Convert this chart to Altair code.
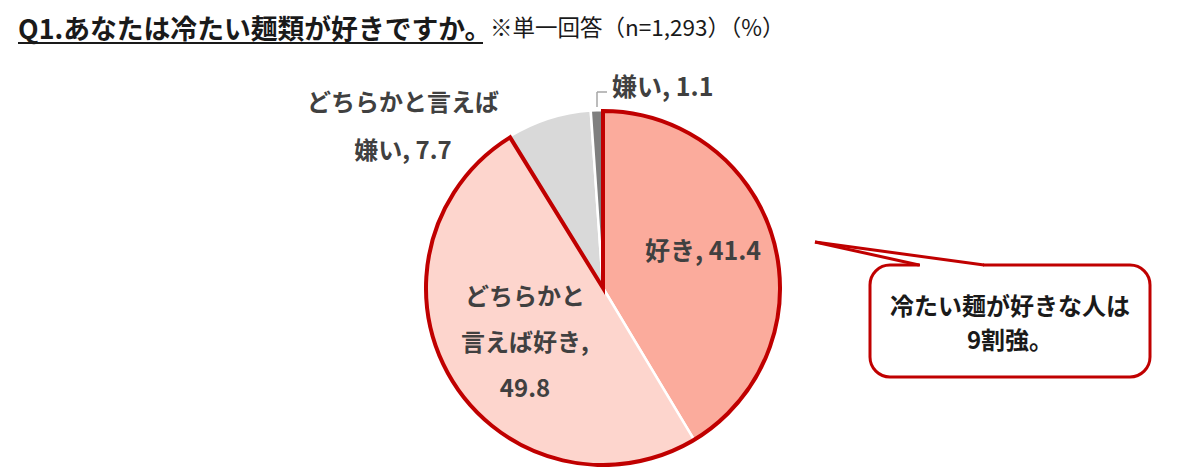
import altair as alt
import pandas as pd

FONT = "Noto Sans CJK JP"

# ---- data ----
categories = ["好き", "どちらかと言えば好き", "どちらかと言えば嫌い", "嫌い"]
values = [41.4, 49.8, 7.7, 1.1]
groups = ["好き計", "好き計", "嫌い計", "嫌い計"]
colors = ["#FBAB9C", "#FDD5CD", "#D9D9D9", "#7F7F7F"]
label_lines = [
    [f"{categories[0]}, {values[0]}"],
    ["どちらかと", "言えば好き,", f"{values[1]}"],
    ["どちらかと言えば", f"嫌い, {values[2]}"],
    [f"{categories[3]}, {values[3]}"],
]
title_text = "Q1.あなたは冷たい麺類が好きですか。"
note_text = "※単一回答（n=1,293）（%）"
callout_lines = ["冷たい麺が好きな人は", "9割強。"]

df = pd.DataFrame({
    "category": categories,
    "value": values,
    "order": list(range(len(categories))),
    "group": groups,
    "label": ["|".join(l) for l in label_lines],
})
one = pd.DataFrame({"k": [0]})

CX, CY, R = 595, 280, 178
RED = "#C00000"

pie = alt.Chart(df).mark_arc(outerRadius=R, stroke="white", strokeWidth=2.5).encode(
    theta=alt.Theta("value:Q", stack=True),
    order=alt.Order("order:Q"),
    color=alt.Color("category:N", scale=alt.Scale(domain=categories, range=colors), legend=None),
    x=alt.value(CX), y=alt.value(CY),
)

outline = alt.Chart(df).transform_aggregate(
    total="sum(value)", o="min(order)", groupby=["group"]
).mark_arc(outerRadius=R - 1, fillOpacity=0, stroke=RED, strokeWidth=4, strokeJoin="miter").encode(
    theta=alt.Theta("total:Q", stack=True),
    order=alt.Order("o:Q"),
    strokeOpacity=alt.condition("datum.group == '好き計'", alt.value(1), alt.value(0)),
    x=alt.value(CX), y=alt.value(CY),
)


def label_layer(i, x, y, align, lh, size=24):
    # y is the middle of the first line
    return alt.Chart(df).transform_filter(alt.datum.order == i).transform_calculate(
        lines="split(datum.label, '|')"
    ).mark_text(fontSize=size, fontWeight="bold", color="#404040", font=FONT,
                align=align, baseline="middle", lineHeight=lh).encode(
        text="lines:N", x=alt.value(x), y=alt.value(y))


labels = [
    label_layer(0, 695, 244, "center", 46, 25),
    label_layer(1, 517, 290, "center", 46),
    label_layer(2, 395, 96, "center", 48),
    label_layer(3, 604, 80, "left", 30, 25),
]

leader_v = alt.Chart(one).mark_rule(color="#A6A6A6", strokeWidth=1.5).encode(
    x=alt.value(589), y=alt.value(99), y2=alt.value(84))
leader_h = alt.Chart(one).mark_rule(color="#A6A6A6", strokeWidth=1.5).encode(
    x=alt.value(589), x2=alt.value(599), y=alt.value(84))

title = alt.Chart(one).mark_text(text=title_text, font=FONT, fontSize=26.8, fontWeight="bold",
                                 color="#1A1A1A", align="left", baseline="alphabetic").encode(
    x=alt.value(10), y=alt.value(31))
underline = alt.Chart(one).mark_rule(color="#1A1A1A", strokeWidth=2).encode(
    x=alt.value(10), x2=alt.value(475), y=alt.value(35))
note = alt.Chart(one).mark_text(text=note_text, font=FONT, fontSize=22.5, color="#1A1A1A",
                                align="left", baseline="alphabetic").encode(
    x=alt.value(482), y=alt.value(28))

box = alt.Chart(one).mark_rect(cornerRadius=20, fill="white", stroke=RED, strokeWidth=3).encode(
    x=alt.value(862), x2=alt.value(1142), y=alt.value(257), y2=alt.value(369))
cover = alt.Chart(one).mark_rule(color="white", strokeWidth=6).encode(
    x=alt.value(912), x2=alt.value(975), y=alt.value(257))
tail1 = alt.Chart(one).mark_rule(color=RED, strokeWidth=3).encode(
    x=alt.value(807), y=alt.value(234), x2=alt.value(911), y2=alt.value(257))
tail2 = alt.Chart(one).mark_rule(color=RED, strokeWidth=3).encode(
    x=alt.value(807), y=alt.value(234), x2=alt.value(976), y2=alt.value(257))
callout = alt.Chart(one).mark_text(text=callout_lines, font=FONT, fontSize=24, fontWeight="bold",
                                   color="#1A1A1A", align="center", baseline="middle",
                                   lineHeight=34).encode(
    x=alt.value(1002), y=alt.value(300))

chart = alt.layer(
    pie, outline, *labels, leader_v, leader_h, title, underline, note,
    box, cover, tail1, tail2, callout
).properties(
    width=1163, height=459, padding=0,
    autosize=alt.AutoSizeParams(type="none"),
).configure_view(stroke=None)

chart.save("out.html", embed_options={"renderer": "svg", "actions": False})
